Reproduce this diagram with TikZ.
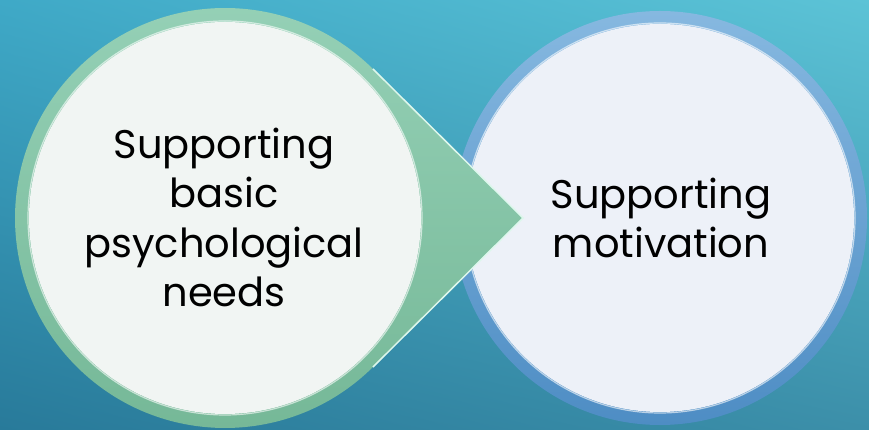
\documentclass[tikz,border=0pt]{standalone}
\usepackage{fontspec}
\setmainfont{Poppins}
\usepackage{tikz}
\usetikzlibrary{calc,shadings}
\definecolor{bgTL}{HTML}{3FA9C7}
\definecolor{bgTR}{HTML}{5CC3D6}
\definecolor{bgBL}{HTML}{287A9A}
\definecolor{bgBR}{HTML}{3C8FA9}
\definecolor{greenTop}{HTML}{96D1B7}
\definecolor{greenBot}{HTML}{74B796}
\definecolor{greenHi}{HTML}{DDF7EC}
\definecolor{blueTop}{HTML}{86B8E0}
\definecolor{blueBot}{HTML}{4E8DC4}
\definecolor{innerG}{HTML}{F1F5F3}
\definecolor{innerB}{HTML}{EDF1F8}
\tikzstyle{ringG}=[top color=greenTop, bottom color=greenBot]
\tikzstyle{ringB}=[top color=blueTop, bottom color=blueBot]
\tikzstyle{glint}=[line width=1.2pt, draw=white, opacity=0.6]
\tikzstyle{bubbletext}=[align=center, anchor=base, text=black, font=\fontsize{40}{49.5}\selectfont]

\begin{document}
\begin{tikzpicture}[x=1pt,y=1pt]
\useasboundingbox (0,0) rectangle (869,430);
\shade[upper left=bgTL, upper right=bgTR, lower left=bgBL, lower right=bgBR] (0,0) rectangle (869,430);
\coordinate (cl) at (225,212);
\coordinate (cr) at (660,212);
\coordinate (tip) at (523,212);
\coordinate (tu) at ($(cl)+(45.2:210)$);
\coordinate (tl) at ($(cl)+(-45.2:210)$);
\shade[ringB] (cr) circle (207);
\fill[innerB] (cr) circle (194);
\draw[glint] (cr) circle (195);
\shade[ringG] (tip) -- (tu) arc[start angle=45.2, end angle=314.8, radius=210] -- cycle;
\fill[innerG] (cl) circle (196);
\draw[glint] (cl) circle (197);
\draw[line width=1.5pt, greenHi] (tu) -- (tip) -- (tl);
\node[bubbletext] (needs) at (224,123) {Supporting\\basic\\psychological\\needs};
\node[bubbletext] (motiv) at (661,172) {Supporting\\motivation};
\end{tikzpicture}
\end{document}
